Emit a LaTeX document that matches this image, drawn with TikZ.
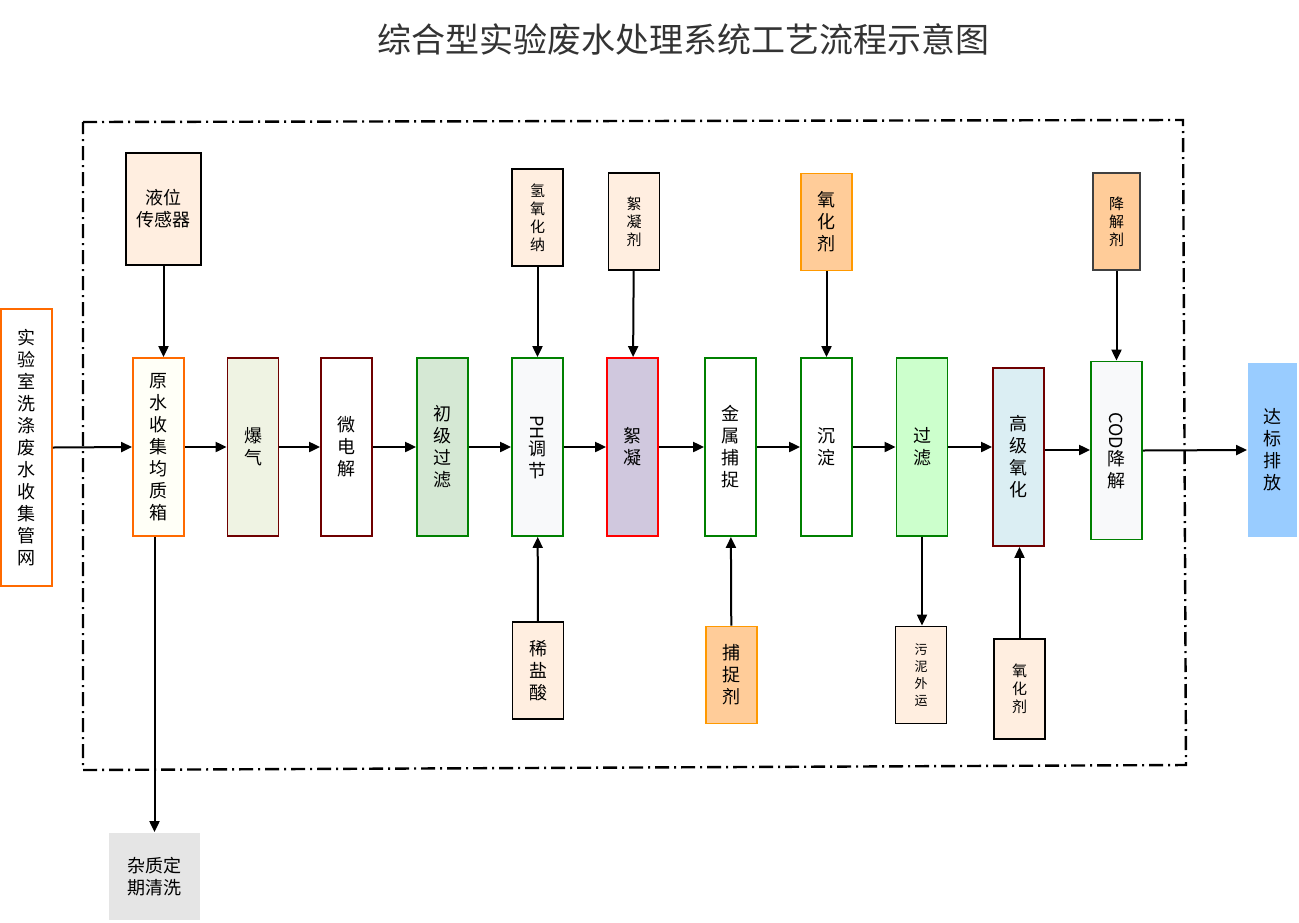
\documentclass[tikz,border=0pt]{standalone}
\usepackage{fontspec}
\setmainfont{Noto Sans CJK SC}
\usetikzlibrary{arrows.meta}
\definecolor{peach}{HTML}{FFEEE0}
\definecolor{orf}{HTML}{FFCC99}
\definecolor{dred}{HTML}{6F0000}
\definecolor{gr}{HTML}{008000}
\definecolor{org}{HTML}{FF9900}
\definecolor{oo}{HTML}{FF6A00}
\definecolor{bq}{HTML}{EFF3E3}
\definecolor{lg}{HTML}{D5E8D4}
\definecolor{lav}{HTML}{D0C8DE}
\definecolor{lb}{HTML}{DBEEF3}
\definecolor{sky}{HTML}{99CCFF}
\definecolor{wh}{HTML}{F8F9FA}
\tikzset{
 box/.style={draw,line width=1.8pt,align=center,inner sep=0pt,font=\fontsize{18}{22}\selectfont},
 mainbox/.style={box,minimum width=51pt,minimum height=178pt},
 small/.style={box,minimum width=51pt,minimum height=97pt},
 sfont/.style={font=\fontsize{15}{18}\selectfont},
 arr/.style={-{Triangle[length=11pt,width=10pt]},line width=2pt},
}
\begin{document}
\begin{tikzpicture}[x=1pt,y=-1pt]
\useasboundingbox (0,0) rectangle (1299,922);
\node[font=\fontsize{34}{40}\selectfont,text=black!80] (title) at (683,40) {综合型实验废水处理系统工艺流程示意图};
\draw[line width=2.4pt,dash pattern=on 14pt off 5pt on 2pt off 5pt] (83,122) -- (1183,120) -- (1186,765) -- (83,770) -- cycle;
% main row
\node[box,draw=oo,minimum width=51pt,minimum height=277pt] (src) at (26.5,447.5) {实\\验\\室\\洗\\涤\\废\\水\\收\\集\\管\\网};
\node[mainbox,draw=oo,fill=white!97!yellow] (a) at (158.5,447) {原\\水\\收\\集\\均\\质\\箱};
\node[mainbox,draw=dred,fill=bq] (b) at (253,447) {爆\\气};
\node[mainbox,draw=dred,fill=white] (c) at (346.5,447) {微\\电\\解};
\node[mainbox,draw=gr,fill=lg] (d) at (442.5,447) {初\\级\\过\\滤};
\node[mainbox,draw=gr,fill=wh] (e) at (537.5,447) {\rotatebox{-90}{PH}\\调\\节};
\node[mainbox,draw=red,fill=lav] (f) at (632.5,447) {絮\\凝};
\node[mainbox,draw=gr,fill=white] (g) at (730.5,447) {金\\属\\捕\\捉};
\node[mainbox,draw=gr,fill=white] (h) at (826.5,447) {沉\\淀};
\node[mainbox,draw=gr,fill=green!20] (i) at (922,447) {过\\滤};
\node[mainbox,draw=dred,fill=lb] (j) at (1018.5,457) {高\\级\\氧\\化};
\node[mainbox,draw=gr,fill=wh] (k) at (1116.5,450.5) {\rotatebox{-90}{COD}\\降\\解};
\node[box,draw=none,fill=sky,minimum width=49pt,minimum height=174pt] (out) at (1272.5,450) {达\\标\\排\\放};
% top
\node[box,fill=peach,minimum width=75pt,minimum height=112pt] (t1) at (163.5,209) {液位\\传感器};
\node[small,sfont,fill=peach] (t2) at (537.5,217.5) {氢\\氧\\化\\纳};
\node[small,sfont,fill=peach] (t3) at (634,221.5) {絮\\凝\\剂};
\node[small,draw=org,fill=orf] (t4) at (826.5,222) {氧\\化\\剂};
\node[small,sfont,draw=black!75,fill=orf,minimum width=47pt] (t5) at (1116.5,221.5) {降\\解\\剂};
% bottom
\node[small,fill=peach] (b1) at (538,670.5) {稀\\盐\\酸};
\node[small,draw=org,fill=orf] (b2) at (731.5,675) {捕\\捉\\剂};
\node[small,font=\fontsize{13}{17}\selectfont,fill=peach] (b3) at (921,675) {污\\泥\\外\\运};
\node[small,sfont,fill=peach,minimum height=100pt] (b4) at (1019.5,689) {氧\\化\\剂};
\node[box,draw=none,fill=gray!20,minimum width=91pt,minimum height=87pt] (junk) at (154.5,876.5) {杂质定\\期清洗};
% flow arrows
\draw[arr] (src.east) -- (a.west);
\draw[arr] (a.east) -- (b.west);
\draw[arr] (b.east) -- (c.west);
\draw[arr] (c.east) -- (d.west);
\draw[arr] (d.east) -- (e.west);
\draw[arr] (e.east) -- (f.west);
\draw[arr] (f.east) -- (g.west);
\draw[arr] (g.east) -- (h.west);
\draw[arr] (h.east) -- (i.west);
\draw[arr] (i.east) -- (i.east -| j.west);
\draw[arr] (k.west |- 0,450) ++(-41,0) coordinate (kin) (j.east |- kin) -- (kin -| k.west);
\draw[arr] (k.east) -- (out.west);
% vertical arrows
\draw[arr] (t1.south) -- (a.north -| t1.south);
\draw[arr] (t2) -- (e);
\draw[arr] (t3) -- (f);
\draw[arr] (t4) -- (h);
\draw[arr] (t5) -- (k);
\draw[arr] (b1) -- (e);
\draw[arr] (b2) -- (g);
\draw[arr] (b4.north) -- (j.south -| b4.north);
\draw[arr] (i.south) -- (b3.north -| i.south);
\draw[arr] (a.south -| junk.north) -- (junk.north);
\end{tikzpicture}
\end{document}
